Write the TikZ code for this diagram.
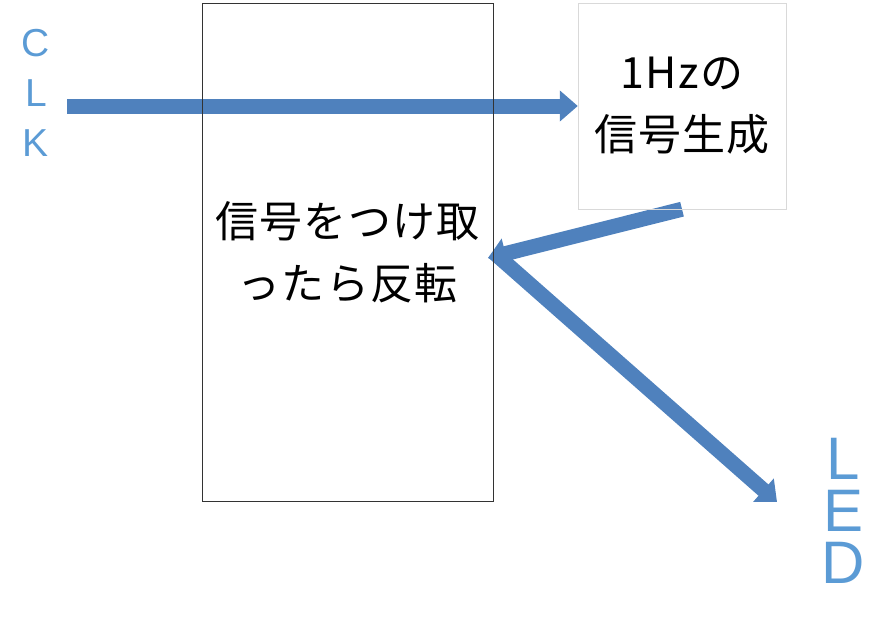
\documentclass[tikz,border=0pt]{standalone}
\usepackage{fontspec}
\setsansfont{Liberation Sans}
\newfontfamily\jpfont[LetterSpace=3]{Noto Sans CJK JP}
\usetikzlibrary{arrows.meta,backgrounds}
\definecolor{arrowblue}{HTML}{4F81BD}
\definecolor{pinblue}{HTML}{5B9BD5}
\tikzset{
  flow/.style={draw=arrowblue, line width=15pt, -{Triangle[width=30pt,length=18pt]}},
  block/.style={inner sep=0pt, align=center, font=\jpfont\fontsize{43}{62}\selectfont},
  pinlabel/.style={text=pinblue, inner sep=0pt, align=center},
}
\begin{document}
\begin{tikzpicture}[x=1pt,y=-1pt]
\useasboundingbox (0,0) rectangle (891,621);
%blocks
\node[block, draw=black!80, minimum width=291pt, minimum height=498pt] (inv) at (347.5,252)
  {信号をつけ取\\ったら反転};
\node[block, draw=black!15, minimum width=208pt, minimum height=206pt] (gen) at (682,106)
  {1Hzの\\信号生成};
%pins
\node[pinlabel, font=\sffamily\fontsize{39}{50}\selectfont] (clk) at (36,93) {C\\L\\K};
\node[pinlabel, font=\sffamily\fontsize{60}{52}\selectfont] (led) at (843,511) {L\\E\\D};
\coordinate (clk in) at (67,106);
\coordinate (inv in) at (488,258);
\coordinate (led in) at (777,502);
%arrows
\begin{scope}[on background layer]
\draw[flow] (clk in) -- (gen.west);
\draw[flow] (gen.south) -- (inv in);
\draw[flow] (inv.east) -- (led in);
\end{scope}
\end{tikzpicture}
\end{document}
